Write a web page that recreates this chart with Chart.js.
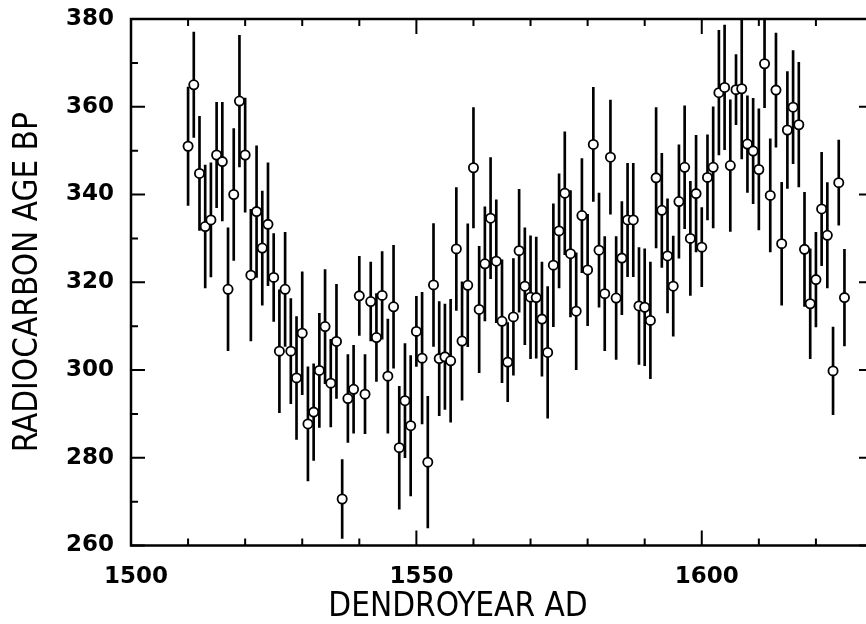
<!DOCTYPE html>
<html>
<head>
<meta charset="utf-8">
<script src="https://cdn.jsdelivr.net/npm/chart.js@4.4.1/dist/chart.umd.min.js"></script>
<style>
  html, body { margin: 0; padding: 0; background: #fff; overflow: hidden; width: 866px; height: 624px; }
  #c { display: block; }
</style>
</head>
<body>
<canvas id="c" width="884" height="624"></canvas>
<script>
// ---- data ----
const years = [
  1510,1511,1512,1513,1514,1515,1516,1517,1518,1519,
  1520,1521,1522,1523,1524,1525,1526,1527,1528,1529,
  1530,1531,1532,1533,1534,1535,1536,1537,1538,1539,
  1540,1541,1542,1543,1544,1545,1546,1547,1548,1549,
  1550,1551,1552,1553,1554,1555,1556,1557,1558,1559,
  1560,1561,1562,1563,1564,1565,1566,1567,1568,1569,
  1570,1571,1572,1573,1574,1575,1576,1577,1578,1579,
  1580,1581,1582,1583,1584,1585,1586,1587,1588,1589,
  1590,1591,1592,1593,1594,1595,1596,1597,1598,1599,
  1600,1601,1602,1603,1604,1605,1606,1607,1608,1609,
  1610,1611,1612,1613,1614,1615,1616,1617,1618,1619,
  1620,1621,1622,1623,1624,1625
];
const ages = [
  351.0,365.0,344.8,332.7,334.2,349.0,347.5,318.4,340.0,361.3,
  349.0,321.6,336.1,327.8,333.2,321.1,304.3,318.4,304.3,298.2,
  308.4,287.7,290.4,299.9,309.9,297.0,306.5,270.6,293.5,295.6,
  316.9,294.5,315.6,307.4,317.0,298.6,314.4,282.3,293.0,287.3,
  308.8,302.7,279.0,319.4,302.6,303.0,302.1,327.6,306.6,319.3,
  346.1,313.8,324.2,334.6,324.8,311.1,301.8,312.1,327.2,319.1,
  316.6,316.5,311.6,304.0,323.9,331.7,340.3,326.5,313.4,335.2,
  322.8,351.4,327.3,317.4,348.5,316.4,325.5,334.2,334.2,314.6,
  314.3,311.3,343.8,336.4,326.0,319.1,338.4,346.2,330.0,340.2,
  328.0,343.9,346.2,363.2,364.4,346.6,363.9,364.1,351.5,349.9,
  345.7,369.8,339.8,363.8,328.8,354.7,359.9,355.9,327.5,315.1,
  320.6,336.7,330.7,299.8,342.7,316.5
];
const errors = [
  13.5,12,13,14,13,12,13.5,14,15,15,
  13,15,15,13,14,10,14,13,12,14,
  14,13,11,13,13,10,13,9,10,10,
  9,9,9,10,10,13,14,14,13,16,
  8,15,15,14,13,12,14,14,13.5,14,
  13.7,14.4,13,13.8,14,14,9,13.3,14,13.3,
  14,13.8,13,15,14,13,14,14.4,13.3,13,
  12.7,13,13,13,13,14,12.9,12.9,12.9,13.3,
  13.3,13.3,16,13,13,11.4,12.9,14,13,13.3,
  9,9.7,13.8,14.2,14.2,15,8,16,11,12,
  13.8,10,12.9,13,14,13.3,12.9,14.2,13,12.5,
  10.8,12.9,12,10,9.7,11
];
const xMajorTicks = [1500, 1550, 1600];
const yMajorTicks = [260, 280, 300, 320, 340, 360, 380];
const xTitle = 'DENDROYEAR AD';
const yTitle = 'RADIOCARBON AGE BP';

// ---- chart ----
const points = years.map((yr, i) => ({ x: yr, y: ages[i] }));
const bars = years.map((yr, i) => ({ x: yr, y: [ages[i] - errors[i], ages[i] + errors[i]] }));

const tickFont = { family: "'DejaVu Sans', sans-serif", size: 23, weight: 'bold' };
const titleFamily = "'DejaVu Sans Condensed', 'Liberation Sans Narrow', 'DejaVu Sans', sans-serif";

const framePlugin = {
  id: 'frame',
  afterDatasetsDraw(chart) {
    const { ctx, chartArea: a, scales: { x, y } } = chart;
    ctx.save();
    ctx.strokeStyle = '#000';
    ctx.lineCap = 'butt';
    ctx.lineWidth = 2;
    ctx.beginPath();
    for (let v = 1500; v <= 1630; v += 10) {
      const px = x.getPixelForValue(v);
      const len = (v % 50 === 0) ? 15 : 7;
      ctx.moveTo(px, a.bottom); ctx.lineTo(px, a.bottom - len);
      ctx.moveTo(px, a.top); ctx.lineTo(px, a.top + len);
    }
    for (let v = 260; v <= 380; v += 10) {
      const py = y.getPixelForValue(v);
      const len = (v % 20 === 0) ? 14 : 7;
      ctx.moveTo(a.left, py); ctx.lineTo(a.left + len, py);
      ctx.moveTo(a.right, py); ctx.lineTo(a.right - len, py);
    }
    ctx.stroke();
    ctx.lineWidth = 2.5;
    ctx.strokeRect(a.left, a.top, a.right - a.left, a.bottom - a.top);
    ctx.restore();
  },
  afterDraw(chart) {
    const { ctx } = chart;
    ctx.save();
    ctx.fillStyle = '#000';
    ctx.font = '33px ' + titleFamily;
    ctx.textAlign = 'center';
    ctx.textBaseline = 'middle';
    ctx.fillText(xTitle, 458, 607);
    ctx.restore();
  }
};

new Chart(document.getElementById('c'), {
  type: 'scatter',
  data: {
    datasets: [
      {
        type: 'scatter',
        data: points,
        order: 1,
        pointRadius: 4.6,
        pointBorderWidth: 1.8,
        pointBackgroundColor: '#fff',
        pointBorderColor: '#000',
        showLine: false
      },
      {
        type: 'bar',
        data: bars,
        order: 2,
        backgroundColor: '#000',
        borderWidth: 0,
        barThickness: 2,
        grouped: false
      }
    ]
  },
  plugins: [framePlugin],
  options: {
    responsive: false,
    animation: false,
    devicePixelRatio: 1,
    layout: { padding: { top: 19, right: 11, left: 0, bottom: 0 } },
    plugins: { legend: { display: false }, tooltip: { enabled: false } },
    scales: {
      x: {
        type: 'linear',
        min: 1500,
        max: 1630,
        offset: false,
        grid: { display: false, drawTicks: true, tickLength: 18 },
        border: { display: false },
        afterBuildTicks(s) { s.ticks = xMajorTicks.map(v => ({ value: v })); },
        afterFit(s) { s.height = 78.5; },
        ticks: {
          font: tickFont,
          color: '#000',
          padding: 0,
          labelOffset: 5,
          maxRotation: 0,
          autoSkip: false,
          callback: v => String(v)
        }
      },
      y: {
        type: 'linear',
        min: 260,
        max: 380,
        grid: { display: false, drawTicks: true, tickLength: 17 },
        border: { display: false },
        afterBuildTicks(s) { s.ticks = yMajorTicks.map(v => ({ value: v })); },
        afterFit(s) { s.width = 131; },
        ticks: {
          font: tickFont,
          color: '#000',
          padding: 0,
          callback: v => String(v)
        },
        title: {
          display: true,
          text: yTitle,
          color: '#000',
          font: { family: titleFamily, size: 33, lineHeight: 1 },
          padding: { top: 12, bottom: 0 }
        }
      }
    }
  }
});
</script>
</body>
</html>
